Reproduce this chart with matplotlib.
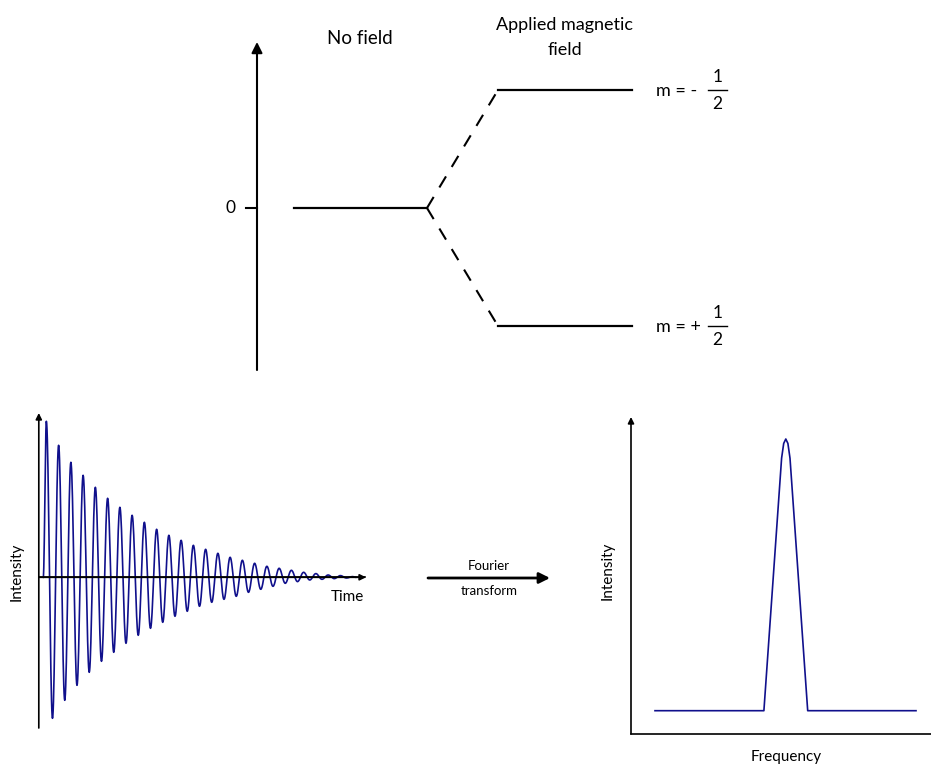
import numpy as np
import matplotlib
matplotlib.use("Agg")
import matplotlib.pyplot as plt

plt.rcParams["font.family"] = ["Lato", "DejaVu Sans"]

W, H = 931, 764

# energy levels, in units of the Zeeman splitting
level_zero = 0.0
split_levels = [1.0, -1.0]
split_signs = ["m = -", "m = +"]

fid_peaks = [156, 132, 115, 102, 90, 79, 70, 62, 55, 48, 42, 37, 32,
             28, 24, 20, 17, 14, 11, 9, 7, 5, 3.7, 2.3, 1.7, 0.7]
fid_troughs = [141, 123, 108, 95, 84, 75, 66, 58, 51, 45, 39, 34, 29,
               25, 22, 19, 15, 12, 9, 6, 4.3, 2.7, 2.0, 1.3, 0.7]

# spectrum after Fourier transform
spec_freq = [8, 44.3, 50.2, 50.9, 51.6, 52.3, 53.0, 58.9, 95]
spec_int = [0.079, 0.079, 0.935, 0.985, 1.0, 0.985, 0.935, 0.079, 0.079]

LINE = "#10108c"

fig = plt.figure(figsize=(W / 100, H / 100), dpi=100)


def box_axes(x0, y0, x1, y1, xlim, ylim):
    ax = fig.add_axes([x0 / W, 1 - y1 / H, (x1 - x0) / W, (y1 - y0) / H])
    ax.set_xlim(*xlim)
    ax.set_ylim(*ylim)
    ax.axis("off")
    return ax


def arrow(ax, start, tip, lw=1.2, scale=10):
    ax.annotate("", xy=tip, xytext=start,
                arrowprops=dict(arrowstyle="-|>", color="black", lw=lw,
                                mutation_scale=scale, shrinkA=0, shrinkB=0))


def label(x, y, s, size, ha="center", **kw):
    fig.text(x / W, 1 - y / H, s, fontsize=size, ha=ha, va="center", **kw)


# ---- energy level diagram ----
top = box_axes(0, 0, W, 400, (0, W), ((208 - 400) / 118, 208 / 118))
arrow(top, (257, -1.373), (257, 1.407), lw=1.5, scale=16)
top.plot([246, 257], [level_zero, level_zero], c="black", lw=1.5)
top.plot([294, 427], [level_zero, level_zero], c="black", lw=1.6)
for e, sign in zip(split_levels, split_signs):
    top.plot([427, 498], [level_zero, e], c="black", lw=1.5, ls=(0, (6.2, 5.3)))
    top.plot([498, 632], [e, e], c="black", lw=1.6)
    yp = 208 - 118 * e
    label(656, yp + 1, sign, 13, ha="left")
    top.plot([708, 727], [e, e], c="black", lw=1.0)
    label(717.5, yp - 13, "1", 12.5)
    label(717.5, yp + 14, "2", 12.5)

label(231, 208, "0", 12.5)
label(360, 38, "No field", 13.5)
label(565, 25, "Applied magnetic", 13)
label(565, 50, "field", 13)

# ---- free induction decay ----
t0, period = 43.3, 12.25
fid = box_axes(0, 400, 380, 745, ((0 - t0) / period, (380 - t0) / period),
               (577.3 - 745, 577.3 - 400))
ext_val = [0.0]
ext_t = [0.0]
for n, p in enumerate(fid_peaks):
    ext_val.append(p)
    ext_t.append(0.25 + n)
    if n < len(fid_troughs):
        ext_val.append(-fid_troughs[n])
        ext_t.append(0.75 + n)
ext_val.append(0.0)
ext_t.append(ext_t[-1] + 0.25)

ts, ys = [], []
for a, b, ta, tb in zip(ext_val[:-1], ext_val[1:], ext_t[:-1], ext_t[1:]):
    s = np.linspace(0, 1, 20)
    ts.append(ta + (tb - ta) * s)
    ys.append((a + b) / 2 + (a - b) / 2 * np.cos(np.pi * s))
fid.plot(np.concatenate(ts), np.concatenate(ys), c=LINE, lw=1.2)

t_axis = (38.8 - t0) / period
fid.plot([t_axis, (365 - t0) / period], [0, 0], c="black", lw=1.2)
arrow(fid, (t_axis, 577.3 - 728), (t_axis, 577.3 - 413), lw=1.2, scale=9)
arrow(fid, (t_axis, 0), ((366 - t0) / period, 0), lw=1.2, scale=9)
label(17, 572, "Intensity", 11, rotation=90)
label(347, 597, "Time", 11)

# ---- Fourier transform arrow ----
mid = box_axes(400, 540, 570, 610, (400, 570), (610, 540))
arrow(mid, (428, 578), (550, 578), lw=2, scale=16)
label(489, 566, "Fourier", 9.5)
label(489, 591, "transform", 9.5)

# ---- spectrum ----
spec = box_axes(600, 400, W, 764, ((600 - 631) / 3, (W - 631) / 3),
                ((734 - 764) / 295, (734 - 400) / 295))
spec.plot(spec_freq, spec_int, c=LINE, lw=1.2)
spec.plot([0, 100], [0, 0], c="black", lw=1.2, clip_on=False)
arrow(spec, (0, 0), (0, (734 - 417) / 295), lw=1.2, scale=9)
label(608, 571, "Intensity", 11, rotation=90)
label(786, 757, "Frequency", 11)

fig.savefig("out.png", dpi=100)
